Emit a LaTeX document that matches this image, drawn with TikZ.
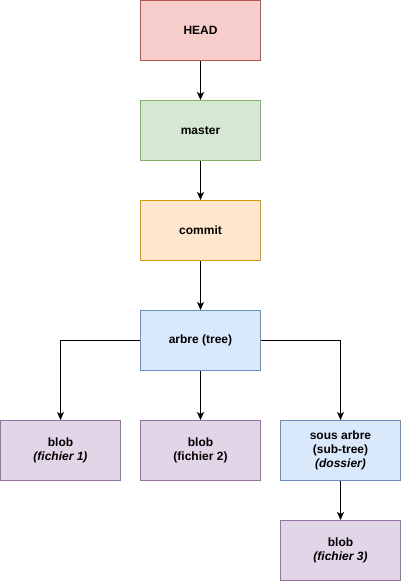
\documentclass[tikz,border=0pt]{standalone}
\usepackage{fontspec}
\setmainfont{Liberation Sans}
\usetikzlibrary{arrows.meta}
\definecolor{redfill}{HTML}{F8CECC}\definecolor{redline}{HTML}{B85450}
\definecolor{greenfill}{HTML}{D5E8D4}\definecolor{greenline}{HTML}{82B366}
\definecolor{orangefill}{HTML}{FFE6CC}\definecolor{orangeline}{HTML}{D79B00}
\definecolor{bluefill}{HTML}{DAE8FC}\definecolor{blueline}{HTML}{6C8EBF}
\definecolor{purplefill}{HTML}{E1D5E7}\definecolor{purpleline}{HTML}{9673A6}
\tikzset{
  box/.style={draw, line width=1pt, minimum width=120pt, minimum height=60pt, inner sep=0pt, align=center, font=\fontsize{12}{14}\selectfont\bfseries},
  redbox/.style={box, fill=redfill, draw=redline},
  greenbox/.style={box, fill=greenfill, draw=greenline},
  orangebox/.style={box, fill=orangefill, draw=orangeline},
  bluebox/.style={box, fill=bluefill, draw=blueline},
  purplebox/.style={box, fill=purplefill, draw=purpleline},
  conn/.style={draw, line width=1pt, -{Stealth[length=8pt,width=7pt,inset=2pt]}},
}
\begin{document}
\begin{tikzpicture}[x=1pt,y=-1pt]
\useasboundingbox (0,0) rectangle (401,581);
\node[redbox] (head) at (200.5,30.5) {HEAD};
\node[greenbox] (master) at (200.5,130.5) {master};
\node[orangebox] (commit) at (200.5,230.5) {commit};
\node[bluebox] (arbre) at (200.5,340.5) {arbre (tree)};
\node[purplebox] (blob1) at (60.5,450.5) {blob\\\itshape(fichier 1)};
\node[purplebox] (blob2) at (200.5,450.5) {blob\\(fichier 2)};
\node[bluebox] (sous) at (340.5,450.5) {sous arbre\\(sub-tree)\\\itshape(dossier)};
\node[purplebox] (blob3) at (340.5,550.5) {blob\\\itshape(fichier 3)};
\draw[conn] (head) -- (master);
\draw[conn] (master) -- (commit);
\draw[conn] (commit) -- (arbre);
\draw[conn] (arbre.west) -| (blob1.north);
\draw[conn] (arbre) -- (blob2);
\draw[conn] (arbre.east) -| (sous.north);
\draw[conn] (sous) -- (blob3);
\end{tikzpicture}
\end{document}
